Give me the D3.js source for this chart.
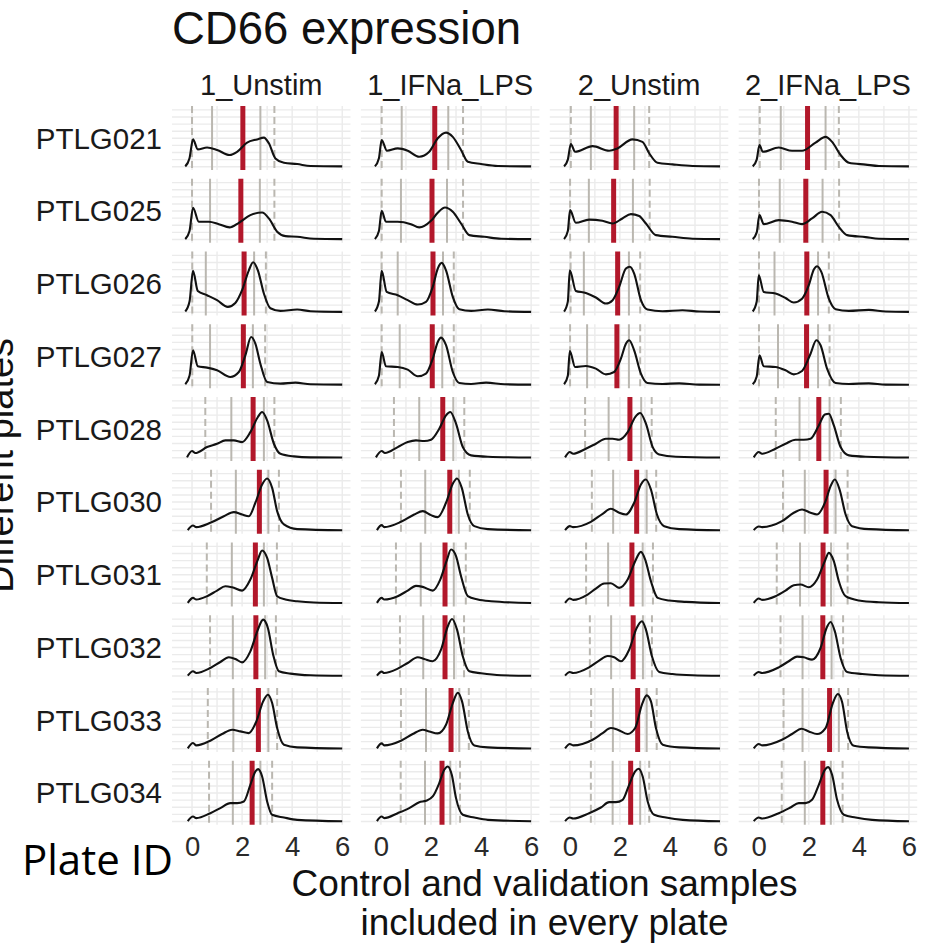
<!DOCTYPE html>
<html><head><meta charset="utf-8">
<script src="https://cdn.jsdelivr.net/npm/d3@7"></script>
<style>
html,body{margin:0;padding:0;background:#fff;}
svg{display:block;font-family:"Liberation Sans",Arial,Helvetica,sans-serif;}
</style></head>
<body><svg id="chart" width="931" height="945"></svg>
<script>
// ---------- data ----------
const conditions = ["1_Unstim", "1_IFNa_LPS", "2_Unstim", "2_IFNa_LPS"];
const plates = ["PTLG021","PTLG025","PTLG026","PTLG027","PTLG028","PTLG030","PTLG031","PTLG032","PTLG033","PTLG034"];
const xTicks = [0, 2, 4, 6];
const xGrid = [0, 1, 2, 3, 4, 5, 6];
const yGrid = [0, 0.1, 0.2, 0.3, 0.4, 0.5, 0.6, 0.7, 0.8];

// quantile markers per condition: [low dashed, low solid, median (red), high solid, high dashed]
const q_PTLG021 = [[0.0,0.8,2.03,2.73,3.29],[0.03,0.83,2.15,2.69,3.28],[0.04,0.84,1.85,2.57,3.17],[0.04,0.88,1.95,2.67,3.2]];
const q_PTLG025 = [[0.0,0.72,1.95,2.71,3.29],[0.03,0.8,2.04,2.64,3.28],[0.01,0.76,1.75,2.52,3.19],[0.01,0.84,1.88,2.55,3.21]];
const q_PTLG026 = [[0.01,0.55,2.08,2.48,2.95],[0.03,0.67,2.08,2.48,2.91],[0.03,0.56,1.91,2.36,2.81],[0.01,0.63,1.92,2.37,2.8]];
const q_PTLG027 = [[0.01,0.72,2.05,2.43,2.92],[0.03,0.75,2.05,2.45,2.91],[0.01,0.69,1.88,2.36,2.81],[0.01,0.77,1.91,2.37,2.83]];
const q_PTLG028 = [[0.53,1.57,2.44,2.87,3.29],[0.52,1.53,2.47,2.89,3.33],[0.61,1.55,2.4,2.85,3.27],[0.68,1.63,2.4,2.83,3.28]];
const q_PTLG030 = [[0.76,1.75,2.69,3.05,3.47],[0.8,1.77,2.75,3.11,3.55],[0.88,1.73,2.67,3.07,3.45],[0.97,1.84,2.69,3.07,3.55]];
const q_PTLG031 = [[0.59,1.59,2.53,2.87,3.39],[0.6,1.59,2.56,2.91,3.39],[0.65,1.53,2.48,2.91,3.32],[0.72,1.65,2.57,2.89,3.55]];
const q_PTLG032 = [[0.72,1.63,2.55,2.92,3.35],[0.76,1.69,2.56,2.92,3.32],[0.8,1.65,2.53,2.92,3.28],[0.87,1.75,2.56,2.91,3.37]];
const q_PTLG033 = [[0.63,1.65,2.65,3.05,3.4],[0.8,1.8,2.8,3.13,3.51],[0.85,1.72,2.71,3.07,3.47],[0.99,1.75,2.83,3.2,3.57]];
const q_PTLG034 = [[0.68,1.63,2.4,2.73,3.2],[0.79,1.76,2.44,2.77,3.16],[0.84,1.71,2.43,2.81,3.17],[0.92,1.84,2.56,2.88,3.35]];

// density curves per condition: [expression, density]
const d_PTLG021 = [
 [[-0.27,0.005],[-0.1,0.12],[0.04,0.385],[0.23,0.245],[0.6,0.27],[1.0,0.235],[1.5,0.165],[1.8,0.21],[2.2,0.34],[2.6,0.385],[2.87,0.41],[3.07,0.33],[3.33,0.117],[3.67,0.056],[4.2,0.038],[4.73,0.01],[6,0.005]],
 [[-0.24,0.005],[-0.08,0.12],[0.03,0.375],[0.24,0.225],[0.67,0.258],[1.07,0.225],[1.53,0.14],[1.93,0.21],[2.27,0.4],[2.6,0.48],[2.87,0.42],[3.2,0.235],[3.47,0.07],[4.0,0.038],[4.67,0.01],[6,0.005]],
 [[-0.23,0.005],[-0.08,0.1],[0.04,0.32],[0.21,0.21],[0.91,0.29],[1.57,0.225],[1.9,0.258],[2.5,0.385],[2.9,0.35],[3.17,0.19],[3.5,0.056],[4.1,0.033],[4.9,0.01],[6,0.005]],
 [[-0.24,0.005],[-0.08,0.1],[0.03,0.305],[0.16,0.21],[0.8,0.27],[1.33,0.225],[1.73,0.225],[2.27,0.34],[2.67,0.42],[2.93,0.35],[3.27,0.165],[3.6,0.056],[4.27,0.03],[4.8,0.01],[6,0.005]]
];
const d_PTLG025 = [
 [[-0.27,0.005],[-0.1,0.12],[0.04,0.446],[0.27,0.25],[0.67,0.25],[1.07,0.216],[1.5,0.17],[1.87,0.235],[2.33,0.343],[2.8,0.38],[3.07,0.296],[3.4,0.108],[3.73,0.047],[4.2,0.038],[4.87,0.01],[6,0.005]],
 [[-0.24,0.005],[-0.08,0.12],[0.03,0.404],[0.2,0.25],[0.67,0.25],[1.2,0.216],[1.53,0.17],[2.0,0.263],[2.27,0.376],[2.56,0.45],[2.87,0.39],[3.2,0.225],[3.53,0.061],[4.13,0.038],[4.8,0.01],[6,0.005]],
 [[-0.23,0.005],[-0.08,0.12],[0.01,0.413],[0.24,0.235],[0.77,0.28],[1.3,0.263],[1.7,0.225],[2.1,0.296],[2.44,0.357],[2.77,0.33],[3.04,0.225],[3.44,0.061],[4.1,0.038],[4.9,0.01],[6,0.005]],
 [[-0.24,0.005],[-0.08,0.1],[0.03,0.343],[0.2,0.216],[0.8,0.272],[1.33,0.25],[1.73,0.216],[2.13,0.296],[2.53,0.39],[2.87,0.343],[3.2,0.178],[3.53,0.061],[4.27,0.033],[4.8,0.01],[6,0.005]]
];
const d_PTLG026 = [
 [[-0.27,0.01],[-0.1,0.15],[0.04,0.582],[0.23,0.3],[0.6,0.24],[1.0,0.17],[1.43,0.075],[1.73,0.13],[2.0,0.31],[2.27,0.59],[2.44,0.704],[2.63,0.59],[2.87,0.263],[3.13,0.056],[3.53,0.019],[4.2,0.038],[4.73,0.014],[6,0.005]],
 [[-0.24,0.01],[-0.08,0.15],[0.03,0.582],[0.23,0.286],[0.67,0.24],[1.07,0.17],[1.47,0.108],[1.8,0.146],[2.07,0.357],[2.27,0.615],[2.43,0.695],[2.6,0.59],[2.87,0.216],[3.13,0.042],[3.6,0.019],[4.27,0.038],[4.93,0.014],[6,0.005]],
 [[-0.23,0.01],[-0.08,0.15],[0.0,0.59],[0.24,0.3],[0.64,0.272],[1.04,0.207],[1.44,0.122],[1.71,0.17],[1.97,0.357],[2.24,0.615],[2.4,0.64],[2.57,0.545],[2.84,0.17],[3.1,0.038],[3.7,0.014],[4.5,0.028],[5.17,0.01],[6,0.005]],
 [[-0.24,0.01],[-0.08,0.15],[0.0,0.52],[0.2,0.286],[0.67,0.263],[1.07,0.2],[1.4,0.136],[1.73,0.19],[2.0,0.38],[2.2,0.6],[2.33,0.648],[2.5,0.568],[2.8,0.19],[3.07,0.042],[3.6,0.019],[4.4,0.033],[5.07,0.01],[6,0.005]]
];
const d_PTLG027 = [
 [[-0.27,0.01],[-0.1,0.13],[0.04,0.488],[0.23,0.263],[0.6,0.244],[1.0,0.207],[1.53,0.113],[1.87,0.183],[2.13,0.418],[2.36,0.676],[2.53,0.582],[2.73,0.3],[3.0,0.042],[3.53,0.019],[4.13,0.033],[4.73,0.01],[6,0.005]],
 [[-0.24,0.01],[-0.08,0.13],[0.03,0.465],[0.2,0.263],[0.67,0.254],[1.07,0.216],[1.47,0.122],[1.8,0.16],[2.07,0.37],[2.27,0.606],[2.4,0.667],[2.6,0.56],[2.87,0.183],[3.13,0.028],[3.6,0.014],[4.2,0.033],[4.93,0.01],[6,0.005]],
 [[-0.23,0.01],[-0.08,0.13],[0.0,0.479],[0.21,0.254],[0.64,0.268],[1.04,0.23],[1.44,0.15],[1.77,0.183],[2.04,0.37],[2.24,0.582],[2.37,0.63],[2.57,0.488],[2.84,0.16],[3.1,0.028],[3.7,0.014],[4.37,0.023],[5.17,0.005],[6,0.003]],
 [[-0.24,0.01],[-0.08,0.12],[0.03,0.418],[0.2,0.263],[0.67,0.254],[1.07,0.207],[1.4,0.15],[1.73,0.197],[2.07,0.44],[2.3,0.63],[2.47,0.56],[2.73,0.23],[3.07,0.028],[3.6,0.014],[4.4,0.023],[5.07,0.005],[6,0.003]]
];
const d_PTLG028 = [
 [[-0.2,0.005],[0.0,0.094],[0.13,0.066],[0.6,0.15],[1.0,0.197],[1.33,0.244],[1.67,0.244],[2.0,0.22],[2.33,0.36],[2.63,0.573],[2.8,0.643],[3.0,0.526],[3.27,0.197],[3.53,0.056],[4.07,0.019],[4.73,0.005],[6,0.003]],
 [[-0.2,0.005],[0.03,0.094],[0.16,0.066],[0.67,0.15],[1.07,0.22],[1.4,0.244],[1.73,0.235],[2.0,0.254],[2.33,0.408],[2.6,0.596],[2.77,0.643],[3.0,0.479],[3.27,0.15],[3.6,0.033],[4.27,0.014],[6,0.003]],
 [[-0.19,0.005],[0.0,0.08],[0.13,0.056],[0.64,0.127],[1.04,0.197],[1.44,0.268],[1.71,0.268],[1.97,0.254],[2.31,0.36],[2.61,0.573],[2.81,0.63],[3.04,0.479],[3.31,0.15],[3.57,0.047],[4.24,0.014],[6,0.003]],
 [[-0.2,0.005],[0.0,0.08],[0.13,0.056],[0.67,0.127],[1.07,0.197],[1.47,0.254],[1.8,0.254],[2.07,0.268],[2.4,0.455],[2.64,0.61],[2.8,0.62],[3.0,0.455],[3.27,0.15],[3.6,0.033],[4.27,0.014],[6,0.003]]
];
const d_PTLG030 = [
 [[-0.17,0.005],[0.04,0.07],[0.17,0.047],[0.73,0.108],[1.27,0.2],[1.67,0.258],[2.0,0.225],[2.27,0.2],[2.53,0.39],[2.8,0.648],[3.0,0.732],[3.2,0.6],[3.4,0.272],[3.67,0.085],[4.2,0.019],[6,0.003]],
 [[-0.16,0.005],[0.03,0.075],[0.13,0.047],[0.8,0.122],[1.33,0.225],[1.67,0.272],[2.0,0.216],[2.27,0.188],[2.6,0.39],[2.87,0.657],[3.04,0.732],[3.23,0.6],[3.47,0.225],[3.73,0.061],[4.27,0.019],[6,0.003]],
 [[-0.19,0.005],[0.0,0.061],[0.13,0.047],[0.84,0.122],[1.31,0.235],[1.64,0.305],[1.97,0.249],[2.24,0.225],[2.57,0.39],[2.84,0.648],[3.04,0.718],[3.24,0.577],[3.48,0.225],[3.77,0.061],[4.37,0.019],[6,0.003]],
 [[-0.2,0.005],[0.0,0.056],[0.13,0.047],[0.93,0.131],[1.4,0.249],[1.73,0.296],[2.07,0.249],[2.33,0.225],[2.67,0.413],[2.87,0.624],[3.04,0.718],[3.23,0.577],[3.47,0.225],[3.73,0.061],[4.4,0.019],[6,0.003]]
];
const d_PTLG031 = [
 [[-0.17,0.005],[0.04,0.075],[0.17,0.052],[0.6,0.099],[1.0,0.178],[1.33,0.24],[1.6,0.225],[2.0,0.178],[2.33,0.333],[2.63,0.615],[2.8,0.742],[3.0,0.638],[3.2,0.357],[3.4,0.099],[3.73,0.052],[4.2,0.028],[4.87,0.01],[6,0.003]],
 [[-0.16,0.005],[0.03,0.075],[0.13,0.052],[0.67,0.099],[1.07,0.178],[1.4,0.244],[1.67,0.23],[2.07,0.178],[2.37,0.333],[2.64,0.615],[2.8,0.756],[3.0,0.662],[3.2,0.38],[3.47,0.099],[3.87,0.052],[4.4,0.028],[6,0.003]],
 [[-0.19,0.005],[0.0,0.066],[0.13,0.047],[0.71,0.122],[1.04,0.207],[1.37,0.277],[1.64,0.282],[1.97,0.216],[2.31,0.333],[2.61,0.592],[2.84,0.723],[3.01,0.615],[3.24,0.31],[3.51,0.075],[3.97,0.038],[4.64,0.019],[6,0.003]],
 [[-0.2,0.005],[0.0,0.066],[0.13,0.047],[0.67,0.099],[1.07,0.178],[1.4,0.254],[1.67,0.263],[2.0,0.225],[2.33,0.333],[2.64,0.592],[2.8,0.709],[3.0,0.592],[3.2,0.31],[3.47,0.099],[4.0,0.038],[4.8,0.014],[6,0.003]]
];
const d_PTLG032 = [
 [[-0.17,0.005],[0.04,0.066],[0.17,0.042],[0.73,0.113],[1.13,0.197],[1.47,0.263],[1.73,0.24],[2.0,0.192],[2.33,0.347],[2.63,0.653],[2.84,0.793],[3.03,0.676],[3.24,0.3],[3.47,0.066],[3.93,0.033],[4.73,0.01],[6,0.003]],
 [[-0.16,0.005],[0.03,0.061],[0.13,0.042],[0.67,0.103],[1.07,0.183],[1.47,0.263],[1.73,0.24],[2.07,0.207],[2.4,0.37],[2.67,0.7],[2.84,0.803],[3.04,0.653],[3.27,0.277],[3.53,0.066],[4.0,0.038],[4.8,0.01],[6,0.003]],
 [[-0.19,0.005],[0.0,0.056],[0.13,0.042],[0.77,0.122],[1.17,0.216],[1.51,0.282],[1.77,0.263],[2.04,0.207],[2.37,0.37],[2.67,0.676],[2.88,0.77],[3.04,0.653],[3.28,0.277],[3.57,0.056],[4.1,0.028],[4.9,0.01],[6,0.003]],
 [[-0.2,0.005],[0.0,0.056],[0.13,0.042],[0.8,0.122],[1.2,0.207],[1.53,0.272],[1.8,0.263],[2.13,0.23],[2.47,0.394],[2.71,0.676],[2.87,0.76],[3.04,0.629],[3.27,0.254],[3.53,0.056],[4.13,0.028],[4.8,0.01],[6,0.003]]
];
const d_PTLG033 = [
 [[-0.17,0.005],[0.04,0.08],[0.17,0.047],[0.73,0.113],[1.2,0.207],[1.6,0.268],[1.93,0.244],[2.27,0.22],[2.57,0.385],[2.84,0.667],[3.03,0.76],[3.2,0.643],[3.4,0.291],[3.67,0.056],[4.2,0.019],[6,0.003]],
 [[-0.16,0.005],[0.03,0.075],[0.13,0.047],[0.8,0.113],[1.27,0.207],[1.67,0.268],[1.93,0.244],[2.27,0.216],[2.6,0.338],[2.87,0.643],[3.07,0.789],[3.24,0.667],[3.47,0.244],[3.73,0.047],[4.27,0.019],[6,0.003]],
 [[-0.19,0.005],[0.0,0.066],[0.13,0.047],[0.91,0.127],[1.31,0.22],[1.64,0.291],[1.91,0.268],[2.31,0.207],[2.61,0.291],[2.88,0.62],[3.07,0.751],[3.24,0.667],[3.44,0.291],[3.71,0.056],[4.37,0.019],[6,0.003]],
 [[-0.2,0.005],[0.0,0.066],[0.13,0.047],[0.93,0.127],[1.33,0.207],[1.71,0.282],[2.0,0.244],[2.33,0.207],[2.67,0.291],[2.96,0.643],[3.16,0.77],[3.33,0.657],[3.53,0.244],[3.8,0.042],[4.4,0.019],[6,0.003]]
];
const d_PTLG034 = [
 [[-0.17,0.005],[0.04,0.07],[0.17,0.047],[0.73,0.117],[1.13,0.188],[1.53,0.258],[1.8,0.258],[2.07,0.282],[2.33,0.516],[2.53,0.704],[2.64,0.737],[2.8,0.634],[3.0,0.282],[3.2,0.094],[3.67,0.056],[4.2,0.023],[6,0.003]],
 [[-0.16,0.005],[0.03,0.07],[0.13,0.047],[0.67,0.117],[1.13,0.188],[1.53,0.272],[1.8,0.291],[2.07,0.352],[2.33,0.54],[2.53,0.728],[2.67,0.775],[2.83,0.657],[3.0,0.329],[3.27,0.094],[3.73,0.056],[4.27,0.023],[6,0.003]],
 [[-0.19,0.005],[0.0,0.056],[0.13,0.042],[0.77,0.117],[1.24,0.197],[1.57,0.272],[1.84,0.272],[2.11,0.305],[2.37,0.516],[2.61,0.704],[2.75,0.742],[2.91,0.634],[3.11,0.282],[3.37,0.094],[3.84,0.056],[4.51,0.023],[6,0.003]],
 [[-0.2,0.005],[0.0,0.056],[0.13,0.042],[0.8,0.117],[1.27,0.197],[1.6,0.258],[1.87,0.258],[2.13,0.305],[2.4,0.516],[2.64,0.728],[2.77,0.765],[2.93,0.657],[3.13,0.305],[3.4,0.094],[3.87,0.056],[4.53,0.023],[6,0.003]]
];

const quantByPlate = {PTLG021:q_PTLG021,PTLG025:q_PTLG025,PTLG026:q_PTLG026,PTLG027:q_PTLG027,PTLG028:q_PTLG028,
  PTLG030:q_PTLG030,PTLG031:q_PTLG031,PTLG032:q_PTLG032,PTLG033:q_PTLG033,PTLG034:q_PTLG034};
const densByPlate = {PTLG021:d_PTLG021,PTLG025:d_PTLG025,PTLG026:d_PTLG026,PTLG027:d_PTLG027,PTLG028:d_PTLG028,
  PTLG030:d_PTLG030,PTLG031:d_PTLG031,PTLG032:d_PTLG032,PTLG033:d_PTLG033,PTLG034:d_PTLG034};

// ---------- layout ----------
const svg = d3.select("#chart");
const FONT = '"Liberation Sans",Arial,Helvetica,sans-serif';
const colGap = 10.4, colStep = 188.9, rowGap = 8.75, rowStep = 72.75;
const left0 = 172, top0 = 106;
const colScale = d3.scaleBand().domain(conditions)
  .range([left0, left0 + colStep * conditions.length - colGap])
  .paddingInner(colGap / colStep).paddingOuter(0);
const rowScale = d3.scaleBand().domain(plates)
  .range([top0, top0 + rowStep * plates.length - rowGap])
  .paddingInner(rowGap / rowStep).paddingOuter(0);
const pw = colScale.bandwidth(), ph = rowScale.bandwidth();

const x = d3.scaleLinear().domain([-0.8, 6.33]).range([0, pw]);
const y = d3.scaleLinear().domain([-0.046, 0.855]).range([ph, 0]);
const line = d3.line().x(d => x(d[0])).y(d => y(d[1])).curve(d3.curveMonotoneX);

const gridCol = "#ebebeb", qCol = "#bab7b0", redCol = "#b2182b";

plates.forEach(p => {
  conditions.forEach((c, ci) => {
    const g = svg.append("g").attr("transform", `translate(${colScale(c)},${rowScale(p)})`);
    // grid
    g.selectAll(".hg").data(yGrid).join("line")
      .attr("x1", 0).attr("x2", pw).attr("y1", d => y(d)).attr("y2", d => y(d))
      .attr("stroke", gridCol).attr("stroke-width", 1.4);
    g.selectAll(".vg").data(xGrid).join("line")
      .attr("x1", d => x(d)).attr("x2", d => x(d)).attr("y1", 0).attr("y2", ph)
      .attr("stroke", gridCol).attr("stroke-width", 1.4);
    const q = quantByPlate[p][ci];
    // quantile lines
    [0, 4].forEach(k => {
      g.append("line").attr("x1", x(q[k])).attr("x2", x(q[k])).attr("y1", 0).attr("y2", ph)
        .attr("stroke", qCol).attr("stroke-width", 2).attr("stroke-dasharray", "7,4");
    });
    [1, 3].forEach(k => {
      g.append("line").attr("x1", x(q[k])).attr("x2", x(q[k])).attr("y1", 0).attr("y2", ph)
        .attr("stroke", qCol).attr("stroke-width", 2);
    });
    g.append("line").attr("x1", x(q[2])).attr("x2", x(q[2])).attr("y1", 0).attr("y2", ph)
      .attr("stroke", redCol).attr("stroke-width", 5);
    // density
    g.append("path").datum(densByPlate[p][ci]).attr("d", line)
      .attr("fill", "none").attr("stroke", "#111").attr("stroke-width", 2.1)
      .attr("stroke-linejoin", "round");
  });
});

// strip labels (top)
svg.selectAll(".strip").data(conditions).join("text")
  .attr("x", d => colScale(d) + pw / 2).attr("y", 95)
  .attr("text-anchor", "middle").attr("font-size", 29).attr("fill", "#1a1a1a")
  .text(d => d);

// row labels
svg.selectAll(".rowlab").data(plates).join("text")
  .attr("x", 162).attr("y", d => rowScale(d) + ph / 2 + 10.5)
  .attr("text-anchor", "end").attr("font-size", 29.5).attr("fill", "#1a1a1a")
  .text(d => d);

// x axes
const axisY = rowScale(plates[plates.length - 1]) + ph;
conditions.forEach(c => {
  const ax = svg.append("g").attr("transform", `translate(${colScale(c)},${axisY})`)
    .call(d3.axisBottom(x).tickValues(xTicks).tickSize(0).tickPadding(12).tickFormat(d3.format("d")));
  ax.select(".domain").remove();
  ax.selectAll("text").attr("font-size", 27.5).attr("fill", "#2a2a2a").attr("font-family", FONT);
});

// title
svg.append("text").attr("x", 172).attr("y", 44).attr("font-size", 45.5).attr("fill", "#111")
  .text("CD66 expression");

// x-axis title
const xc = left0 + (colStep * 4 - colGap) / 2;
const xt = svg.append("text").attr("x", xc).attr("y", 896)
  .attr("text-anchor", "middle").attr("font-size", 37).attr("fill", "#111");
xt.append("tspan").attr("x", xc).attr("dy", 0).text("Control and validation samples");
xt.append("tspan").attr("x", xc).attr("dy", 39).text("included in every plate");

// y-axis title (clipped at left edge, as in the reference)
svg.append("text").attr("transform", `translate(13,${top0 + (rowStep * plates.length - rowGap) / 2}) rotate(-90)`)
  .attr("text-anchor", "middle").attr("font-size", 38).attr("fill", "#111")
  .text("Different plates");

// annotation
svg.append("text").attr("x", 22).attr("y", 875).attr("font-size", 42)
  .attr("font-family", '"Open Sans","Noto Sans",sans-serif').attr("fill", "#000")
  .text("Plate ID");
</script></body></html>
